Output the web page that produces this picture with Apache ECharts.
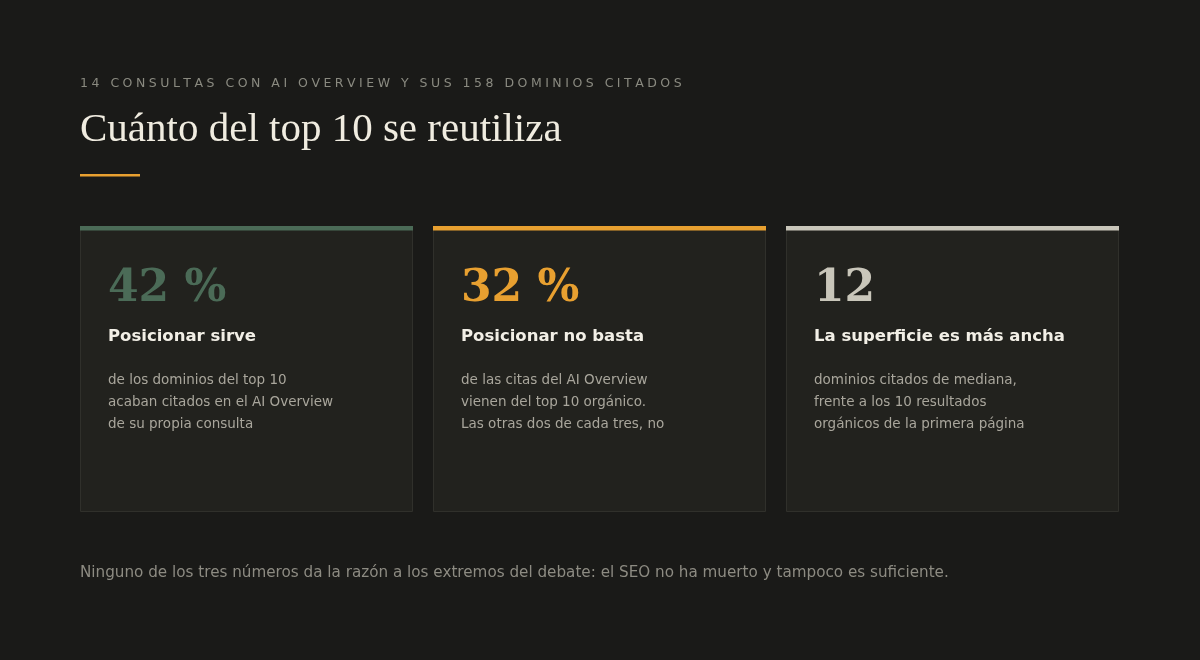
<!DOCTYPE html>
<html><head><meta charset="utf-8">
<script src="https://cdn.jsdelivr.net/npm/echarts@6/dist/echarts.min.js"></script>
<style>html,body{margin:0;background:#1a1a18}#main{width:1200px;height:660px}</style>
</head><body><div id="main"></div>
<script>
var kicker = '14 CONSULTAS CON AI OVERVIEW Y SUS 158 DOMINIOS CITADOS';
var title = 'Cuánto del top 10 se reutiliza';
var values = ['42 %', '32 %', '12'];
var heads = ['Posicionar sirve', 'Posicionar no basta', 'La superficie es más ancha'];
var bodies = [
    'de los dominios del top 10\nacaban citados en el AI Overview\nde su propia consulta',
    'de las citas del AI Overview\nvienen del top 10 orgánico.\nLas otras dos de cada tres, no',
    'dominios citados de mediana,\nfrente a los 10 resultados\norgánicos de la primera página'
];
var accents = ['#4b6b57', '#e8a030', '#c9c6ba'];
var footer = 'Ninguno de los tres números da la razón a los extremos del debate: el SEO no ha muerto y tampoco es suficiente.';

var chart = echarts.init(document.getElementById('main'));
var els = [];

// letter-spaced kicker, one glyph at a time
var ctx = document.createElement('canvas').getContext('2d');
ctx.font = '12.5px "DejaVu Sans"';
var x = 80;
for (var i = 0; i < kicker.length; i++) {
    els.push({ type: 'text', left: x, top: 77, style: { text: kicker[i], fill: '#8a8a80', font: '12.5px "DejaVu Sans"' } });
    x += ctx.measureText(kicker[i]).width + 3.5;
}
els.push({ type: 'text', left: 80, top: 110, style: { text: title, fill: '#f0ece0', font: '41px "Liberation Serif"' } });
els.push({ type: 'rect', shape: { x: 80, y: 174, width: 60, height: 2.5 }, style: { fill: '#e8a030' } });

values.forEach(function (v, k) {
    var cx = 80 + k * 353;
    els.push({ type: 'rect', shape: { x: cx + 0.5, y: 226.5, width: 332, height: 285 }, style: { fill: '#22221e', stroke: '#30302b', lineWidth: 1 } });
    els.push({ type: 'rect', shape: { x: cx, y: 226, width: 333, height: 4.5 }, style: { fill: accents[k] } });
    els.push({ type: 'text', left: cx + 28, top: 268, style: { text: v, fill: accents[k], font: 'bold 44px "DejaVu Serif"' } });
    els.push({ type: 'text', left: cx + 28, top: 328, style: { text: heads[k], fill: '#f2efe6', font: 'bold 16.5px "DejaVu Sans"' } });
    els.push({ type: 'text', left: cx + 28, top: 369, style: { text: bodies[k], fill: '#a9a69c', font: '13.5px "DejaVu Sans"', lineHeight: 22 } });
});
els.push({ type: 'text', left: 80, top: 566, style: { text: footer, fill: '#8d8b82', font: '15.2px "DejaVu Sans"' } });

chart.setOption({ backgroundColor: '#1a1a18', graphic: { elements: els } });
</script></body></html>
